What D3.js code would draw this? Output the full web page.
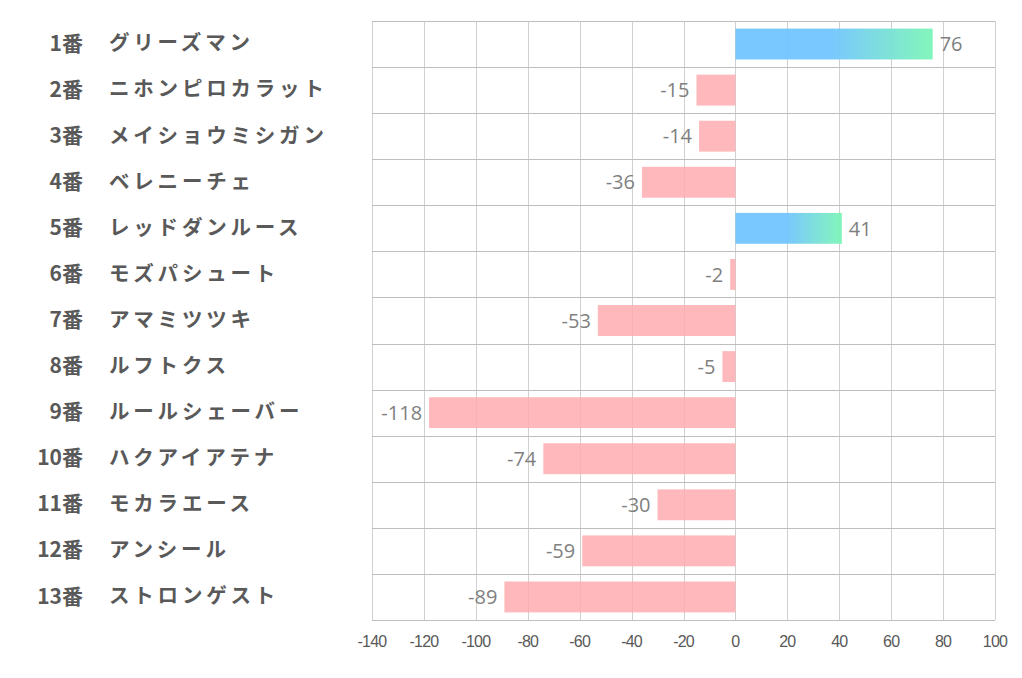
<!DOCTYPE html>
<html><head><meta charset="utf-8">
<script src="https://cdn.jsdelivr.net/npm/d3@7"></script>
<style>body{margin:0;background:#fff}</style>
</head><body>
<svg id="c" width="1022" height="678"></svg>
<script>
const numbers = ["1番","2番","3番","4番","5番","6番","7番","8番","9番","10番","11番","12番","13番"];
const names = ["グリーズマン","ニホンピロカラット","メイショウミシガン","ベレニーチェ","レッドダンルース","モズパシュート","アマミツツキ","ルフトクス","ルールシェーバー","ハクアイアテナ","モカラエース","アンシール","ストロンゲスト"];
const values = [76,-15,-14,-36,41,-2,-53,-5,-118,-74,-30,-59,-89];
const tickValues = [-140,-120,-100,-80,-60,-40,-20,0,20,40,60,80,100];

(function(){
const svg = d3.select("#c");
const pl = 372, pr = 995, pt = 21, pb = 620;
const x = d3.scaleLinear().domain([-140,100]).range([pl,pr]);
const y = d3.scaleBand().domain(d3.range(values.length)).range([pt,pb]).paddingInner(0.33).paddingOuter(0.165);
const yRow = d3.scaleBand().domain(d3.range(values.length)).range([pt,pb]);

const defs = svg.append("defs");
const g = defs.append("linearGradient").attr("id","pos").attr("x1","0").attr("x2","1").attr("y1","0").attr("y2","0");
g.append("stop").attr("offset","0%").attr("stop-color","#6ec3ff");
g.append("stop").attr("offset","48%").attr("stop-color","#6ec3ff");
g.append("stop").attr("offset","100%").attr("stop-color","#78f5b4");

// grid
svg.append("g").selectAll("line").data(tickValues).join("line")
  .attr("x1",d=>Math.round(x(d))+0.5).attr("x2",d=>Math.round(x(d))+0.5)
  .attr("y1",pt).attr("y2",pb).attr("stroke","#d0d0d0").attr("stroke-width",1);
svg.append("g").selectAll("line").data(d3.range(values.length+1)).join("line")
  .attr("x1",pl).attr("x2",pr)
  .attr("y1",d=>Math.round(pt + d*yRow.bandwidth())+0.5).attr("y2",d=>Math.round(pt + d*yRow.bandwidth())+0.5)
  .attr("stroke","#bdbdbd").attr("stroke-width",1);

// bars
svg.append("g").selectAll("rect").data(values).join("rect")
  .attr("x",d=>x(Math.min(0,d))).attr("width",d=>Math.abs(x(d)-x(0)))
  .attr("y",(d,i)=>y(i)).attr("height",y.bandwidth())
  .attr("fill",d=>d>=0?"url(#pos)":"#ffabaf").attr("fill-opacity",d=>d>=0?0.92:0.85);

// data labels
svg.append("g").selectAll("text").data(values).join("text")
  .attr("x",d=>d>=0?x(d)+7:x(d)-7)
  .attr("y",(d,i)=>y(i)+y.bandwidth()/2)
  .attr("dy","0.36em")
  .attr("text-anchor",d=>d>=0?"start":"end")
  .attr("font-family","'Open Sans', sans-serif").attr("font-size",20).attr("fill","#7f7f7f")
  .text(d=>d);

// category labels
const cat = svg.append("g").attr("font-family","'Noto Sans CJK JP', sans-serif").attr("font-weight","bold").attr("fill","#595959");
cat.selectAll("text.n").data(numbers).join("text").attr("class","n")
  .attr("font-size",21)
  .attr("x",83).attr("y",(d,i)=>yRow(i)+yRow.bandwidth()/2-1).attr("dy","0.36em").attr("text-anchor","end").text(d=>d);
cat.selectAll("text.m").data(names).join("text").attr("class","m")
  .attr("font-size",20.5).attr("letter-spacing",3.8)
  .attr("x",109).attr("y",(d,i)=>yRow(i)+yRow.bandwidth()/2-1).attr("dy","0.36em").attr("text-anchor","start").text(d=>d);

// x axis tick labels
svg.append("g").selectAll("text").data(tickValues).join("text")
  .attr("x",d=>x(d)).attr("y",641).attr("dy","0.36em").attr("text-anchor","middle")
  .attr("font-family","'Liberation Sans', sans-serif").attr("font-size",16).attr("letter-spacing",-0.8).attr("fill","#595959")
  .text(d=>d);
})();
</script>
</body></html>
